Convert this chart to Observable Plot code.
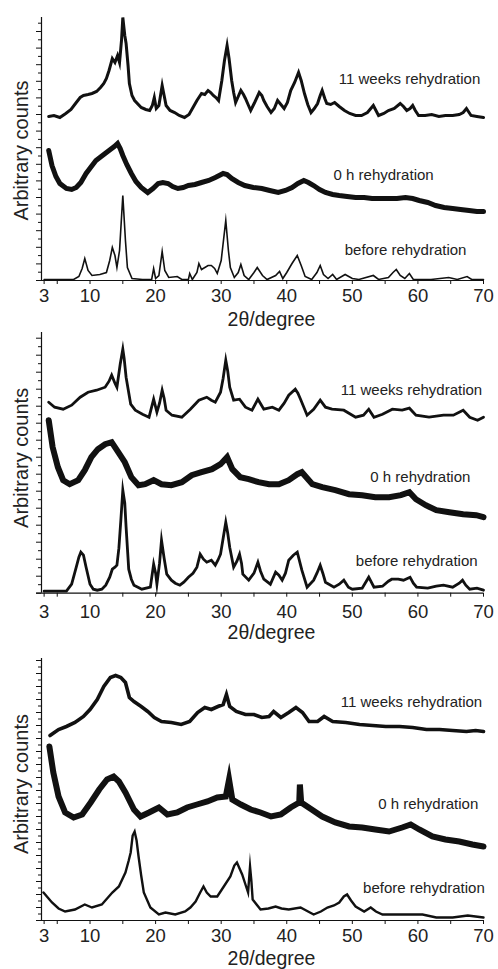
<!DOCTYPE html>
<html><head><meta charset="utf-8">
<script src="https://cdn.jsdelivr.net/npm/d3@7"></script>
<script src="https://cdn.jsdelivr.net/npm/@observablehq/plot@0.6"></script>
<style>
body{margin:0;background:#fff;}
#c{width:498px;}
#c svg{display:block;overflow:visible;}
</style></head><body><div id="c"></div>
<script>
// ---- axis / label data ----
const xTickLabels = [3, 10, 20, 30, 40, 50, 60, 70];
const xMinorTicks = [5, 15, 25, 35, 45, 55, 65];
const seriesNames = ["11 weeks rehydration", "0 h rehydration", "before rehydration"];
const xTitle = "2θ/degree";
const yTitle = "Arbitrary counts";

// ---- panel 1 traces: [2θ, counts] ----
const p1Weeks = [[3.7,164],[4.5,165],[5.4,163],[6.3,167],[7.1,171],[7.9,178],[8.5,183],[9.0,185],[9.7,186],[10.3,187],[11.0,189],[11.6,193],[12.1,197],[12.5,202],[12.9,210],[13.4,222],[13.8,218],[14.2,225],[14.5,218],[14.8,240],[15.0,263],[15.3,245],[15.5,237],[15.8,215],[16.0,197],[16.4,185],[16.8,180],[17.8,173],[18.5,171],[19.1,170],[19.5,175],[19.8,183],[20.1,172],[20.5,175],[21.0,195],[21.3,185],[21.6,175],[22.2,170],[22.9,168],[23.6,165],[24.4,163],[25.1,166],[25.7,173],[26.3,180],[27.0,187],[27.5,186],[28.0,190],[28.4,188],[28.8,185],[29.2,183],[29.6,180],[30.1,200],[30.5,220],[30.9,235],[31.2,222],[31.6,200],[31.9,188],[32.2,178],[32.6,184],[33.0,190],[33.4,186],[33.7,182],[34.1,176],[34.5,170],[35.1,178],[35.8,188],[36.2,185],[36.5,180],[37.0,174],[37.6,168],[38.1,172],[38.6,180],[39.1,176],[39.6,172],[40.1,178],[40.6,190],[41.2,198],[41.8,208],[42.2,200],[42.7,187],[43.2,176],[43.7,168],[44.2,172],[44.7,177],[45.1,185],[45.4,190],[45.8,182],[46.1,177],[46.7,176],[47.3,178],[48.0,174],[48.8,170],[49.6,167],[50.5,165],[51.4,165],[52.3,168],[53.2,175],[53.6,170],[54.0,165],[54.8,167],[55.5,170],[56.4,172],[57.3,177],[57.8,174],[58.3,170],[58.8,172],[59.2,175],[59.6,170],[60.1,165],[61.1,165],[62.1,166],[63.2,164],[64.2,165],[65.3,165],[66.3,166],[66.9,168],[67.4,172],[67.8,168],[68.1,165],[69.0,164],[70,163]];
const p1Zero = [[3.7,130],[4.2,115],[4.8,104],[5.4,97],[6.4,92],[7.2,91],[7.9,93],[8.6,98],[9.4,107],[10.2,114],[10.9,120],[11.7,124],[12.5,128],[13.1,131],[13.7,134],[14.2,137],[14.6,132],[15.0,125],[15.6,116],[16.3,107],[17.0,99],[17.8,93],[18.8,88],[19.6,92],[20.4,97],[21.1,98],[21.9,97],[22.6,94],[23.4,92],[24.2,93],[25.0,95],[26.0,96],[27.0,98],[28.1,100],[29.1,103],[29.7,105],[30.3,107],[30.9,106],[31.6,102],[32.6,98],[33.6,95],[34.9,93],[36.2,92],[37.4,90],[38.7,88],[39.8,90],[40.8,93],[41.7,97],[42.6,100],[43.3,98],[44.1,95],[45.0,91],[45.9,88],[47.0,86],[48.0,85],[49.2,84],[50.5,83],[51.8,83],[53.0,82],[54.3,82],[55.6,82],[56.8,82],[58.1,83],[59.2,82],[60.2,80],[61.5,78],[62.7,75],[64.0,73],[65.3,72],[66.5,71],[67.8,70],[69.0,69],[70,69]];
const p1Before = [[3.0,1],[5,1],[7.5,1],[8.3,4],[8.8,12],[9.2,22],[9.7,10],[10.3,5],[11.5,6],[12.5,8],[13.0,20],[13.4,33],[13.8,25],[14.1,13],[14.5,30],[15.0,85],[15.4,40],[15.7,13],[16.4,2],[18,1],[19.4,1],[19.7,12],[20.0,2],[20.5,5],[21.0,29],[21.4,10],[22.0,3],[23.3,4],[24,1],[25.0,1],[25.2,7],[25.6,1],[26.3,8],[26.6,17],[27.0,11],[28.0,15],[28.5,15],[29.0,12],[29.4,7],[30.0,20],[30.7,60],[31.1,30],[31.4,13],[32.0,3],[32.6,8],[33.0,16],[33.5,5],[34.2,1],[35.0,8],[35.5,13],[36.3,5],[37.0,1],[38.3,5],[38.9,9],[39.4,2],[40.0,8],[40.8,17],[41.6,25],[42.2,15],[42.8,4],[43.8,1],[44.6,8],[45.1,15],[45.6,6],[46.3,2],[47.0,6],[47.6,1],[48.9,6],[50,2],[51,1],[53.2,5],[54,1],[55.5,3],[56.2,8],[56.7,11],[57.3,5],[58.0,2],[58.7,7],[59.3,1],[62,1],[64.7,3],[66,1],[67.5,4],[68.2,1],[70,1]];

// ---- panel 2 traces ----
const p2Weeks = [[3.7,191],[4.6,186],[5.9,184],[7.2,188],[8.5,196],[9.7,201],[11.0,203],[12.3,206],[12.9,212],[13.3,218],[13.8,210],[14.1,206],[14.6,229],[15.0,244],[15.2,235],[15.5,216],[16.2,189],[16.9,183],[18.0,179],[19.0,176],[19.7,194],[20.2,181],[20.6,190],[21.0,203],[21.3,195],[21.6,183],[22.5,178],[24.0,176],[25.3,184],[26.6,193],[27.8,196],[28.5,193],[29.1,191],[29.9,201],[30.3,215],[30.7,233],[31.0,222],[31.3,206],[31.9,193],[32.8,194],[33.7,186],[34.7,183],[35.6,194],[36.5,184],[37.8,186],[38.8,183],[39.6,190],[40.3,198],[41.3,204],[41.7,200],[42.1,194],[43.1,178],[44.1,184],[45.1,193],[45.9,186],[46.9,184],[48.7,183],[50.5,176],[51.7,178],[52.5,184],[53.3,176],[54.6,179],[56.1,184],[57.6,183],[58.7,185],[59.7,178],[61.7,176],[63.9,178],[65.4,178],[66.9,183],[67.9,176],[69.1,173],[70,176]];
const p2Zero = [[3.7,173],[4.3,146],[5.1,126],[5.9,113],[6.9,109],[8.2,113],[9.2,123],[10.2,136],[11.2,144],[12.3,149],[13.3,151],[14.3,141],[15.3,131],[16.3,116],[17.4,108],[18.4,109],[19.7,113],[20.9,109],[22.4,108],[24.0,111],[25.5,118],[27.0,121],[28.6,124],[29.9,129],[30.9,136],[31.7,124],[32.9,116],[34.2,114],[35.7,111],[37.3,109],[38.8,109],[40.3,113],[41.6,119],[42.3,121],[43.9,109],[45.4,106],[47.4,103],[49.5,99],[51.5,98],[53.5,96],[55.6,96],[57.4,98],[58.7,101],[59.7,94],[61.2,88],[62.8,83],[64.8,81],[66.9,79],[68.9,78],[70,76]];
const p2Before = [[3.0,2],[5,2],[6.4,2],[7.2,9],[7.9,26],[8.3,36],[8.6,41],[9.0,38],[9.4,26],[10.0,9],[10.5,4],[11.1,3],[11.8,4],[12.4,8],[13.0,16],[13.4,24],[13.8,26],[14.1,28],[14.4,45],[14.7,73],[15.0,103],[15.3,90],[15.5,66],[15.9,24],[16.3,14],[16.7,8],[17.9,4],[19.2,6],[19.7,29],[20.0,20],[20.2,9],[20.6,30],[20.9,53],[21.3,35],[21.7,19],[22.4,13],[23.0,10],[23.7,8],[24.3,11],[25.0,16],[25.7,20],[26.3,26],[26.8,39],[27.3,34],[27.8,31],[28.5,33],[29.1,28],[29.5,33],[29.9,39],[30.3,55],[30.7,71],[31.0,60],[31.3,46],[31.9,26],[32.4,32],[32.8,39],[33.1,30],[33.3,19],[34.2,13],[35.0,20],[35.6,31],[36.0,22],[36.5,14],[37.5,9],[38.3,21],[38.8,18],[39.3,13],[39.8,20],[40.3,33],[41.0,38],[41.6,41],[42.3,23],[43.1,6],[44.1,13],[44.6,20],[45.1,28],[45.5,20],[45.9,11],[47.2,6],[48.0,9],[48.7,13],[49.4,6],[50.0,4],[51.5,5],[52.5,16],[53.3,6],[54.6,7],[55.5,12],[56.0,14],[57.0,14],[57.8,13],[58.8,16],[59.3,10],[59.8,6],[61.5,5],[62.8,7],[63.9,8],[65.3,6],[66.3,10],[66.8,13],[67.3,8],[67.9,4],[69.0,5],[70,3]];

// ---- panel 3 traces ----
const p3Weeks = [[3.9,185],[5.2,191],[6.4,194],[7.7,198],[9.0,204],[10.0,211],[11.1,221],[12.1,234],[13.1,243],[13.9,245],[14.7,243],[15.4,238],[16.0,223],[16.7,219],[17.8,214],[18.8,209],[19.8,203],[20.9,199],[22.4,198],[23.9,196],[25.2,199],[26.4,208],[27.5,213],[28.5,211],[29.5,214],[30.3,216],[30.8,226],[31.3,214],[32.3,209],[33.7,206],[35.0,206],[36.2,203],[37.3,204],[38.0,209],[39.1,203],[40.3,208],[41.4,213],[42.4,208],[43.4,199],[44.7,199],[45.7,204],[47.0,199],[49.0,198],[51.1,196],[53.1,195],[55.1,194],[57.2,194],[59.2,193],[61.3,191],[63.3,191],[65.3,190],[67.4,189],[68.8,190],[70,189]];
const p3Zero = [[3.8,174],[4.4,148],[5.2,124],[6.2,108],[7.5,103],[8.8,106],[10.1,118],[11.4,131],[12.6,141],[13.6,144],[14.4,139],[15.4,128],[16.7,111],[17.7,104],[19.0,108],[20.5,113],[21.8,106],[23.3,108],[24.8,113],[26.3,116],[27.9,119],[29.4,123],[30.7,124],[31.2,141],[31.7,121],[33.0,116],[34.5,111],[36.0,108],[37.6,104],[39.1,106],[40.6,113],[41.9,118],[42.0,136],[42.2,118],[43.8,111],[45.4,104],[47.4,98],[49.5,94],[51.5,93],[53.5,91],[55.6,89],[57.6,93],[58.9,96],[60.2,91],[62.2,84],[64.2,81],[66.3,79],[68.3,76],[70,74]];
const p3Before = [[2.9,28],[4.2,18],[5.2,12],[6.2,9],[7.7,11],[9.2,16],[10.3,13],[11.8,16],[13.4,28],[14.4,34],[15.4,48],[15.9,60],[16.2,68],[16.5,85],[16.8,89],[17.1,80],[17.4,64],[17.8,45],[18.2,28],[19.2,13],[20.5,6],[21.5,8],[23.0,6],[24.5,9],[25.3,13],[26.1,19],[26.8,28],[27.3,34],[27.8,28],[28.4,24],[29.4,24],[30.4,34],[31.4,44],[32.0,55],[32.4,58],[32.8,52],[33.2,46],[33.7,36],[34.1,28],[34.4,54],[34.6,40],[34.8,21],[36.0,11],[37.2,12],[38.3,14],[39.2,12],[40.3,11],[42.1,13],[44.1,6],[45.2,9],[46.2,13],[47.2,15],[48.0,18],[48.7,24],[49.2,26],[49.8,20],[50.5,14],[51.8,9],[52.8,13],[53.6,9],[54.6,6],[57.7,6],[60.7,6],[62.8,3],[65.3,3],[67.6,5],[68.8,4],[70,3]];

// ---- panel builder ----
function panel(cfg) {
  const {height, mt, mb, yMax, traces, ann, tickPad, yStep, yLabDy, xLabDy} = cfg;
  const major = d3.range(0, yMax + 0.01, yStep);
  const minor = d3.range(yStep / 2, yMax + 0.01, yStep);
  const marks = [
    Plot.axisY(major, {tickSize: 5, tickFormat: () => "", label: null}),
    Plot.axisY(minor, {tickSize: 3, tickFormat: () => "", label: null}),
    Plot.axisX(xTickLabels, {tickSize: 4, tickPadding: tickPad, fontSize: 18.5, label: null, fill: "#222"}),
    Plot.axisX(xMinorTicks, {tickSize: 4, tickFormat: () => "", label: null}),
    Plot.ruleX([2.6], {stroke: "#111", strokeWidth: 1.2}),
    Plot.ruleY([0], {x1: 1.85, x2: 70, stroke: "#111", strokeWidth: 1.2}),
  ];
  traces.forEach(t => marks.push(Plot.line(t.data, {x: d => d[0], y: d => d[1], stroke: "#111", strokeWidth: t.sw, strokeLinejoin: "miter", strokeMiterlimit: 12})));
  ann.forEach((a, i) => marks.push(Plot.text([seriesNames[i]], {x: a[0], y: a[1], text: d => d, textAnchor: "end", fontSize: 15, fill: "#222"})));
  marks.push(Plot.text([xTitle], {frameAnchor: "bottom", textAnchor: "middle", lineAnchor: "top", dy: xLabDy, dx: 9, text: d => d, fontSize: 19.5, fill: "#222"}));
  marks.push(Plot.text([yTitle], {frameAnchor: "left", textAnchor: "middle", lineAnchor: "middle", rotate: -90, dx: -20, dy: yLabDy, text: d => d, fontSize: 20, fill: "#222"}));
  return Plot.plot({
    width: 498, height,
    marginLeft: 41, marginRight: 15, marginTop: mt, marginBottom: mb,
    x: {domain: [2.6, 70]},
    y: {domain: [0, yMax]},
    style: {fontFamily: "'Liberation Sans', Arial, sans-serif", color: "#111", background: "transparent", overflow: "visible"},
    marks
  });
}

const c = document.getElementById("c");
c.appendChild(panel({height: 325, mt: 17, mb: 45, yMax: 263, tickPad: 4, yStep: 16.6, yLabDy: 1.5, xLabDy: 32,
  traces: [{data: p1Weeks, sw: 3}, {data: p1Zero, sw: 5}, {data: p1Before, sw: 1.6}],
  ann: [[69.5, 201], [62.4, 105], [67.4, 30]]}));
c.appendChild(panel({height: 320, mt: 7, mb: 52.3, yMax: 260.7, tickPad: 8, yStep: 17, yLabDy: -5, xLabDy: 32,
  traces: [{data: p2Weeks, sw: 2.8}, {data: p2Zero, sw: 6}, {data: p2Before, sw: 2.8}],
  ann: [[69.8, 202.7], [68.0, 115.7], [69.1, 31.7]]}));
c.appendChild(panel({height: 324, mt: 13, mb: 49, yMax: 262, tickPad: 4, yStep: 13, yLabDy: -5.5, xLabDy: 30.5,
  traces: [{data: p3Weeks, sw: 3.6}, {data: p3Zero, sw: 6}, {data: p3Before, sw: 2.4}],
  ann: [[69.8, 218], [69.2, 116], [70.2, 32]]}));
</script>
</body></html>
